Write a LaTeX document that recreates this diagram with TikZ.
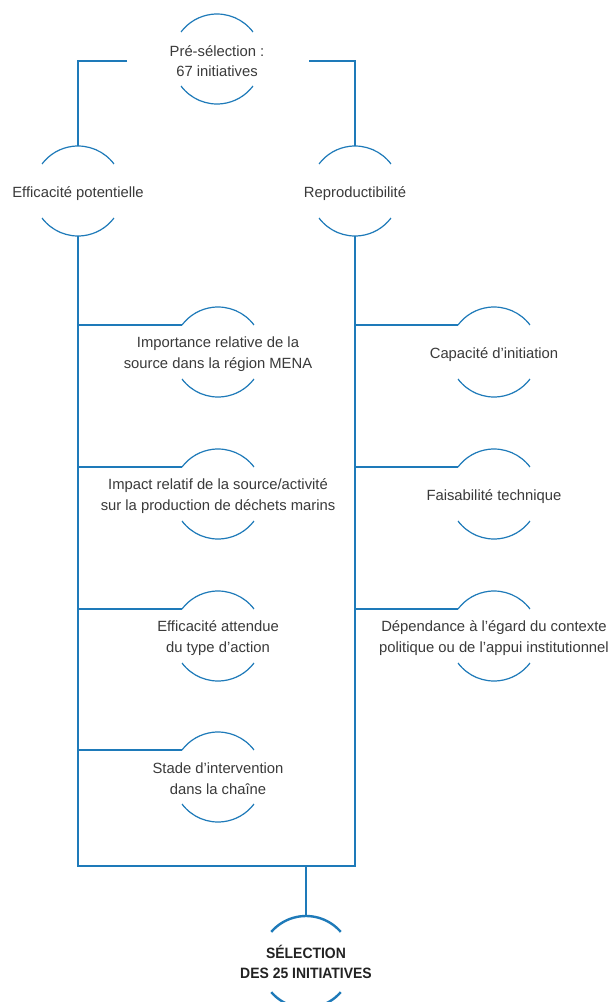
\documentclass[tikz,border=0pt]{standalone}
\usepackage{fontspec}
\setmainfont{Liberation Sans}
\newfontfamily\selfont[FakeStretch=0.93]{Liberation Sans}
\definecolor{lineblue}{HTML}{1E7AB9}
\definecolor{txt}{HTML}{3A3A3A}
\definecolor{seltxt}{HTML}{222222}
\tikzset{
  ring/.style={circle, minimum size=90pt, inner sep=0pt, outer sep=0pt},
  selring/.style={circle, minimum size=92pt, inner sep=0pt, outer sep=0pt},
  crittext/.style={align=center, inner sep=0pt, text=txt, font=\fontsize{14.8}{20.7}\selectfont},
  seltext/.style={align=center, inner sep=0pt, text=seltxt, font=\selfont\bfseries\fontsize{15}{20}\selectfont},
  link/.style={draw=lineblue, line width=1.2pt},
  arcline/.style={draw=lineblue, line width=1.2pt},
  selarc/.style={draw=lineblue, line width=2.4pt},
}
\begin{document}
\begin{tikzpicture}[x=1pt,y=1pt]
\useasboundingbox (0,0) rectangle (612,-1002);
\clip (0,0) rectangle (612,-1002);
\fill[white] (0,0) rectangle (612,-1002);

% circles (invisible shapes carrying the anchors)
\node[ring] (pre) at (217,-59) {};
\node[ring] (eff) at (78,-191) {};
\node[ring] (rep) at (355,-191) {};
\node[ring] (imp) at (218,-352) {};
\node[ring] (impa) at (218,-494) {};
\node[ring] (effa) at (218,-636) {};
\node[ring] (stade) at (218,-777) {};
\node[ring] (cap) at (494,-352) {};
\node[ring] (fais) at (494,-494) {};
\node[ring] (dep) at (494,-636) {};
\node[selring] (sel) at (306,-962) {};

% texts
\node[crittext] (preT) at ([yshift=-2]pre.center) {Pré-sélection :\\67 initiatives};
\node[crittext] (effT) at ([yshift=-3]eff.center) {Efficacité potentielle};
\node[crittext] (repT) at ([yshift=-3]rep.center) {Reproductibilité};
\node[crittext] (impT) at ([yshift=-2]imp.center) {Importance relative de la\\source dans la région MENA};
\node[crittext] (impaT) at ([yshift=-2]impa.center) {Impact relatif de la source/activité\\sur la production de déchets marins};
\node[crittext] (effaT) at ([yshift=-2]effa.center) {Efficacité attendue\\du type d’action};
\node[crittext] (stadeT) at ([yshift=-2]stade.center) {Stade d’intervention\\dans la chaîne};
\node[crittext] (capT) at ([yshift=-3]cap.center) {Capacité d’initiation};
\node[crittext] (faisT) at ([yshift=-3]fais.center) {Faisabilité technique};
\node[crittext] (depT) at ([yshift=-2]dep.center) {Dépendance à l’égard du contexte\\politique ou de l’appui institutionnel};
\node[seltext] (selT) at (sel.center) {SÉLECTION\\DES 25 INITIATIVES};

% arcs
\foreach \n in {pre,eff,rep,imp,impa,effa,stade,cap,fais,dep}
  \draw[arcline] (\n.37) arc[start angle=37,end angle=143,radius=45pt]
                 (\n.217) arc[start angle=217,end angle=323,radius=45pt];
\draw[selarc] (sel.41) arc[start angle=41,end angle=139,radius=46pt]
              (sel.221) arc[start angle=221,end angle=319,radius=46pt];

% connectors
\coordinate (preL) at (127,-61);
\coordinate (preR) at (309,-61);
\draw[link] (preL) -| (eff.north);
\draw[link] (preR) -| (rep.north);
\coordinate (bl) at (78,-866);
\coordinate (br) at (355,-866);
\draw[link] (eff.south) -- (bl) -- (br) -- (rep.south);
\draw[link] (sel.north |- bl) -- (sel.north);
\foreach \n in {imp,impa,effa,stade}
  \draw[link] (\n.143 -| bl) -- (\n.143);
\foreach \n in {cap,fais,dep}
  \draw[link] (\n.143 -| br) -- (\n.143);
\end{tikzpicture}
\end{document}
